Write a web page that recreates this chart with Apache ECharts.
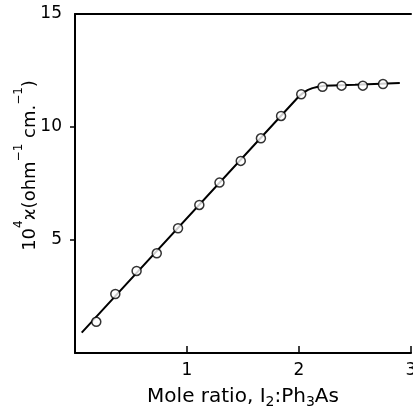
<!DOCTYPE html>
<html><head><meta charset="utf-8">
<script src="https://cdn.jsdelivr.net/npm/echarts@6/dist/echarts.min.js"></script>
<style>html,body{margin:0;padding:0;background:#fff}#c{width:413px;height:408px}</style>
</head><body><div id="c"></div>
<script>
const xLabel = '{a|Mole ratio, I}{sub|2}{a|:Ph}{sub|3}{a|As}';
const yLabel = '{a|10}{sup|4}{a|ϰ(ohm}{sup|−1}{a| cm.}{sup|−1}{a|)}';
const yTickLabels = [5, 10, 15];
const xTickLabels = [1, 2, 3];
const pointX = [0.19,0.36,0.55,0.73,0.92,1.11,1.29,1.48,1.66,1.84,2.02,2.21,2.38,2.57,2.75];
const pointY = [1.38,2.61,3.63,4.41,5.52,6.55,7.54,8.50,9.50,10.49,11.45,11.78,11.83,11.83,11.90];
const curveX = [0.06,2.0,2.04,2.08,2.12,2.17,2.22,2.3,2.5,2.9];
const curveY = [0.9,11.36,11.52,11.64,11.72,11.78,11.82,11.84,11.87,11.95];

const font = 'DejaVu Sans';
const chart = echarts.init(document.getElementById('c'));
chart.setOption({
  animation: false,
  backgroundColor: '#fff',
  grid: {left: 75, right: 2, top: 14, bottom: 55, containLabel: false, outerBoundsMode: 'none'},
  xAxis: [{
    type: 'value', min: 0, max: 3, interval: 1,
    name: xLabel, nameLocation: 'middle', nameGap: 32,
    nameTextStyle: {
      fontFamily: font, color: '#000',
      rich: {
        a: {fontFamily: font, fontSize: 20, color: '#000', lineHeight: 24},
        sub: {fontFamily: font, fontSize: 14, color: '#000', lineHeight: 14, verticalAlign: 'bottom'}
      }
    },
    axisLine: {lineStyle: {color: '#000', width: 2}},
    axisTick: {inside: true, length: 7, lineStyle: {color: '#000', width: 1.5}, customValues: xTickLabels},
    axisLabel: {fontFamily: font, fontSize: 17, color: '#000', margin: 9, customValues: xTickLabels},
    splitLine: {show: false}
  }, {
    type: 'value', min: 0, max: 3, position: 'top',
    axisLine: {show: true, onZero: false, lineStyle: {color: '#000', width: 2}},
    axisTick: {show: false}, axisLabel: {show: false}, splitLine: {show: false}
  }],
  yAxis: {
    type: 'value', min: 0, max: 15, interval: 5,
    name: yLabel, nameLocation: 'middle', nameGap: 36, nameRotate: 90, nameMoveOverlap: false,
    nameTextStyle: {
      fontFamily: font, color: '#000', padding: [0,0,0,36],
      rich: {
        a: {fontFamily: font, fontSize: 18, color: '#000', lineHeight: 26, verticalAlign: 'bottom'},
        sup: {fontFamily: font, fontSize: 12, color: '#000', lineHeight: 14, verticalAlign: 'top'}
      }
    },
    axisLine: {show: true, lineStyle: {color: '#000', width: 2}},
    axisTick: {inside: false, length: 5, lineStyle: {color: '#000', width: 1.5}, customValues: [5, 10]},
    axisLabel: {fontFamily: font, fontSize: 17, color: '#000', margin: 13, customValues: yTickLabels},
    splitLine: {show: false}
  },
  series: [{
    type: 'line', data: curveX.map((x, i) => [x, curveY[i]]),
    showSymbol: false, symbol: 'none',
    lineStyle: {color: '#000', width: 2}, z: 2
  }, {
    type: 'scatter', data: pointX.map((x, i) => [x, pointY[i]]),
    symbol: 'circle', symbolSize: 9,
    itemStyle: {color: '#fff', borderColor: '#000', borderWidth: 1.5}, z: 3
  }]
});
</script></body></html>
